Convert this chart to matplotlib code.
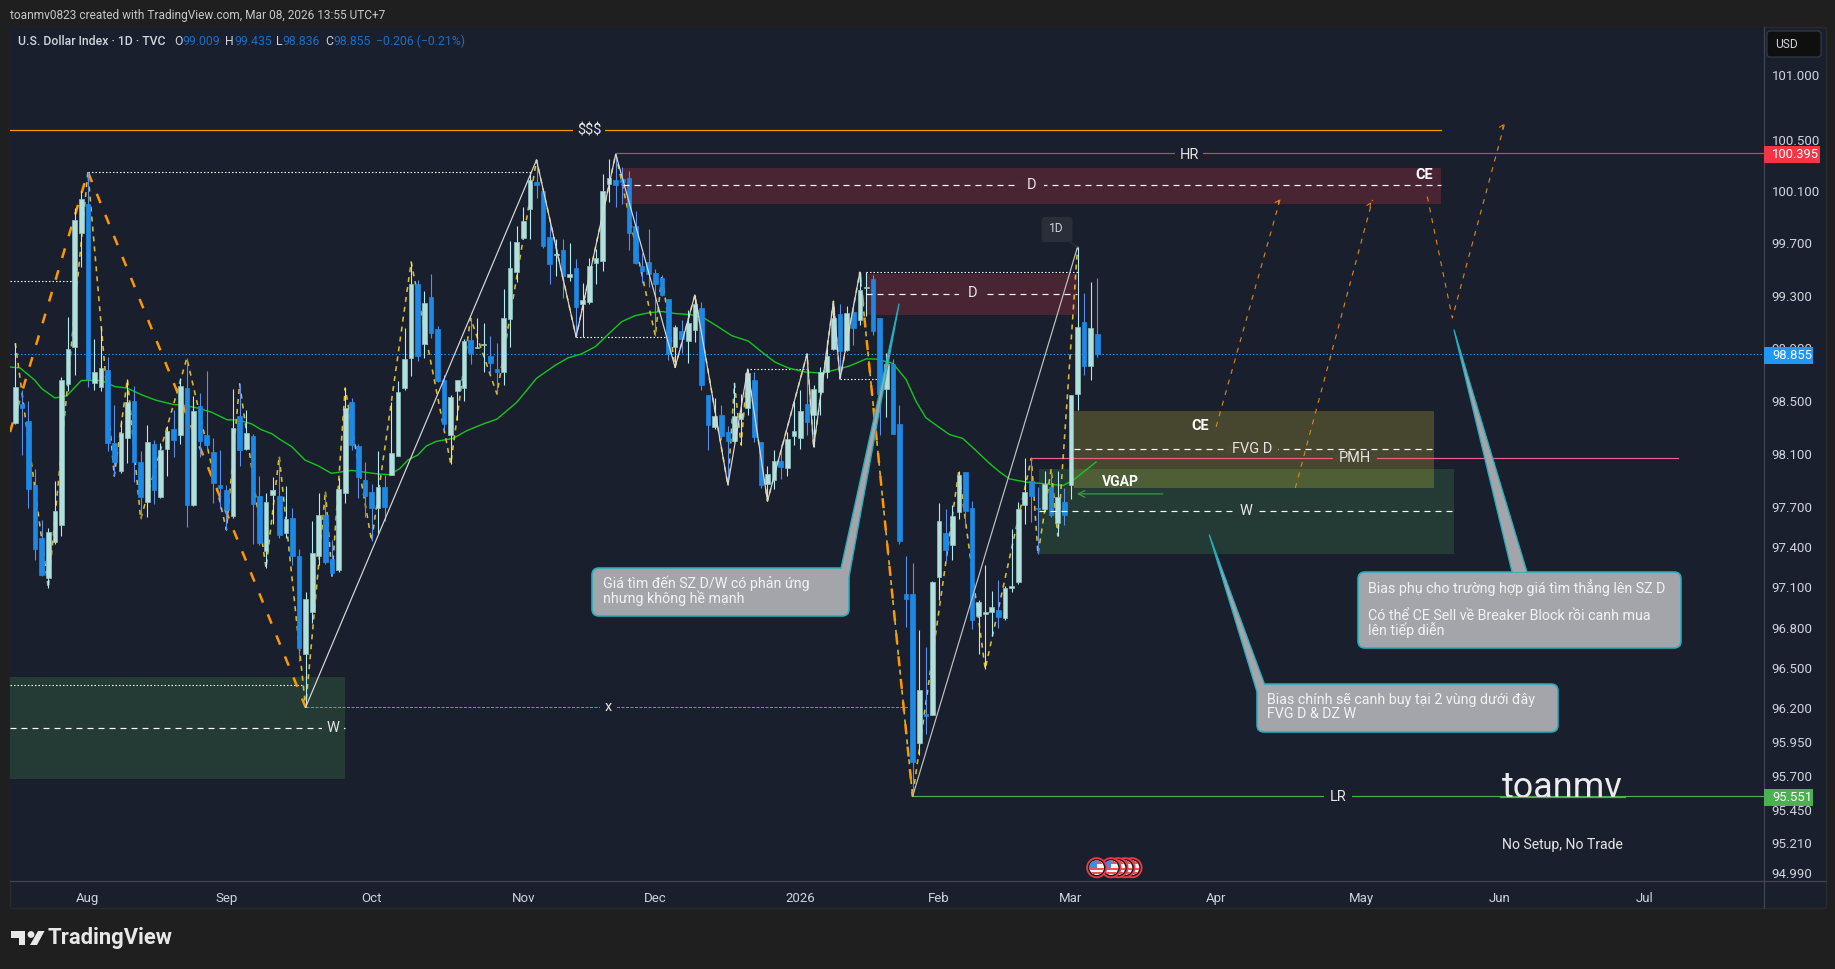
import matplotlib
matplotlib.use("Agg")
import matplotlib.pyplot as plt
import matplotlib.patches as patches
import numpy as np

plt.rcParams["font.family"] = ["Roboto", "DejaVu Sans"]
plt.rcParams["lines.scale_dashes"] = False

# daily candles, first bar is late July 2025, last is Mar 6 2026
opens = [98.333, 98.48, 98.348, 97.866, 97.468, 97.169, 97.438, 97.566, 98.63, 98.91, 99.781, 100.004, 98.637, 98.607, 98.735,
         98.182, 97.971, 98.22, 98.501, 98.039, 97.738, 98.175, 97.776, 98.137, 98.287, 98.242, 98.599, 97.715, 98.462, 98.242,
         98.114, 97.866, 97.828, 97.633, 98.386, 98.137, 98.235, 97.783, 97.371, 97.791, 97.783, 97.505, 97.617, 97.333, 96.603,
         96.915, 97.333, 97.64, 97.31, 97.228, 97.806, 98.492, 98.16, 97.904, 97.814, 97.692, 97.851, 97.941, 98.084, 98.599,
         98.826, 99.39, 98.933, 99.291, 99.047, 98.659, 98.243, 98.576, 98.599, 98.963, 98.902, 98.925, 98.842, 98.743, 98.72,
         99.123, 99.483, 99.743, 99.965, 100.172, 100.101, 99.75, 99.613, 99.651, 99.444, 99.513, 99.237, 99.253, 99.551, 99.567,
         100.158, 100.189, 100.196, 100.204, 99.834, 99.528, 99.559, 99.474, 99.436, 99.275, 98.91, 99.031, 98.955, 99.039, 99.206,
         98.546, 98.303, 98.394, 98.265, 98.197, 98.363, 98.447, 98.659, 98.19, 97.874, 97.904, 98.047, 97.994, 98.235, 98.22,
         98.477, 98.394, 98.568, 98.72, 98.895, 99.164, 98.888, 99.18, 99.116, 99.361, 99.432, 99.132, 98.59, 98.778, 98.324,
         97.052, 97.052, 95.948, 96.162, 96.154, 97.175, 97.508, 97.415, 97.663, 97.964, 97.694, 96.882, 96.897, 96.913, 96.928,
         96.867, 97.098, 97.136, 97.717, 97.896, 97.694, 97.687, 97.85, 97.578, 97.741, 97.865, 98.551, 99.1, 98.762, 99.009]
highs = [98.94, 98.584, 98.501, 97.986, 97.603, 97.54, 97.896, 98.682, 99.139, 99.973, 100.105, 100.25, 98.971, 99.07, 98.834,
         98.47, 98.356, 98.667, 98.614, 98.122, 98.318, 98.205, 98.182, 98.31, 98.432, 98.675, 98.826, 98.539, 98.561, 98.728,
         98.22, 98.129, 97.866, 98.592, 98.63, 98.432, 98.25, 97.933, 97.806, 97.926, 98.084, 97.859, 97.692, 97.386, 97.064,
         97.595, 97.806, 97.821, 97.453, 97.919, 98.599, 98.523, 98.175, 98.039, 97.874, 98.122, 97.941, 98.492, 98.652, 99.054,
         99.559, 99.421, 99.337, 99.467, 99.07, 98.697, 98.545, 98.659, 98.97, 99.13, 99.13, 99.092, 98.993, 98.94, 99.352,
         99.72, 99.835, 99.98, 100.249, 100.342, 100.101, 99.865, 99.735, 99.735, 99.704, 99.582, 99.398, 99.59, 99.659, 100.235,
         100.35, 100.388, 100.288, 100.258, 99.95, 99.628, 99.811, 99.505, 99.459, 99.275, 99.077, 99.115, 99.191, 99.306, 99.253,
         98.546, 98.523, 98.47, 98.31, 98.634, 98.553, 98.743, 98.72, 98.19, 98.01, 98.13, 98.175, 98.265, 98.493, 98.583,
         98.857, 98.621, 98.76, 98.963, 99.258, 99.237, 99.219, 99.245, 99.479, 99.479, 99.456, 99.132, 98.865, 98.818, 98.473,
         97.33, 97.284, 96.783, 96.652, 97.144, 97.733, 97.687, 97.717, 97.974, 97.966, 97.749, 97.005, 97.268, 97.075, 97.152,
         97.113, 97.539, 97.741, 98.067, 98.067, 97.85, 97.974, 97.989, 97.974, 97.842, 98.543, 99.674, 99.321, 99.408, 99.435]
lows = [98.323, 98.092, 97.693, 97.303, 97.183, 97.094, 97.423, 97.483, 98.577, 98.698, 99.52, 98.607, 98.584, 98.577, 98.122,
        97.933, 97.956, 98.031, 97.889, 97.61, 97.625, 97.723, 97.768, 97.933, 98.077, 98.175, 97.55, 97.708, 98.077, 98.129,
        97.73, 97.685, 97.528, 97.618, 98.009, 98.129, 97.423, 97.415, 97.243, 97.573, 97.468, 97.468, 97.265, 96.551, 96.208,
        96.833, 97.265, 97.273, 97.183, 97.213, 97.73, 98.129, 97.767, 97.625, 97.445, 97.505, 97.595, 97.941, 98.084, 98.584,
        98.69, 98.804, 98.826, 98.978, 98.644, 98.281, 98.025, 98.356, 98.5, 98.781, 98.902, 98.72, 98.712, 98.553, 98.621,
        98.91, 99.406, 99.735, 99.735, 100.05, 99.666, 99.391, 99.452, 99.283, 99.414, 98.986, 98.986, 99.237, 99.39, 99.49,
        100.019, 99.98, 100.004, 99.651, 99.543, 99.398, 99.367, 98.994, 99.298, 98.811, 98.755, 98.864, 98.788, 98.948, 98.583,
        98.13, 98.288, 98.205, 97.866, 98.19, 98.168, 98.394, 98.19, 97.844, 97.746, 97.836, 97.912, 97.934, 98.168, 98.138,
        98.243, 98.153, 98.394, 98.675, 98.887, 98.668, 98.88, 98.927, 99.077, 99.148, 98.998, 98.246, 98.379, 98.254, 97.423,
        96.806, 95.551, 95.857, 96.009, 96.154, 97.005, 97.299, 97.307, 97.609, 97.554, 96.79, 96.606, 96.491, 96.736, 96.798,
        96.859, 97.067, 97.121, 97.57, 97.585, 97.345, 97.671, 97.624, 97.484, 97.562, 97.764, 98.434, 98.7, 98.661, 98.836]
closes = [98.607, 98.447, 97.836, 97.388, 97.191, 97.513, 97.67, 98.66, 98.895, 99.881, 100.043, 98.667, 98.72, 98.751, 98.182,
          98.039, 98.257, 98.493, 98.039, 97.776, 98.19, 97.828, 98.129, 98.272, 98.205, 98.614, 97.715, 98.424, 98.197, 98.167,
          97.881, 97.843, 97.678, 98.295, 98.129, 98.257, 97.723, 97.43, 97.738, 97.828, 97.49, 97.61, 97.333, 96.647, 97.012,
          97.355, 97.64, 97.288, 97.205, 97.836, 98.447, 98.167, 97.926, 97.784, 97.692, 97.851, 97.7, 98.107, 98.569, 98.819,
          99.39, 98.842, 99.245, 99.016, 98.652, 98.326, 98.53, 98.659, 98.955, 98.864, 98.91, 98.933, 98.788, 98.72, 99.13,
          99.513, 99.712, 99.873, 100.188, 100.149, 99.681, 99.544, 99.62, 99.452, 99.467, 99.214, 99.268, 99.528, 99.59, 100.104,
          100.204, 100.15, 100.173, 99.781, 99.551, 99.49, 99.467, 99.39, 99.306, 98.857, 99.062, 98.97, 99.092, 99.237, 98.621,
          98.318, 98.386, 98.235, 98.197, 98.386, 98.409, 98.712, 98.228, 97.866, 97.95, 98.047, 98.002, 98.213, 98.273, 98.424,
          98.34, 98.591, 98.72, 98.841, 99.13, 98.88, 99.172, 99.053, 99.345, 99.369, 99.03, 98.551, 98.778, 98.254, 97.446,
          97.013, 95.804, 96.338, 96.147, 97.136, 97.593, 97.376, 97.632, 97.943, 97.671, 96.859, 96.99, 96.913, 96.951, 96.875,
          97.098, 97.113, 97.687, 97.811, 97.78, 97.687, 97.873, 97.64, 97.777, 97.64, 98.543, 99.061, 98.762, 99.053, 98.855]

# moving average, read at a point every couple of bars
ma_bars = [-0.8, 0.7, 2, 3, 4, 6, 7.8, 10, 11.1, 13.1, 15.1, 16.9, 19.2, 21.2, 24, 25.3, 27.8, 29.8, 32.1, 33.9, 35.9, 37.2, 38.9,
           40.1, 41.9, 43.9, 45.9, 47.9, 51, 55, 56.8, 58.3, 59.5, 61, 62.3, 63.8, 66.4, 68.4, 70.9, 73, 76, 79,
           81.8, 83.8, 85.8, 87.9, 89.9, 91.9, 93.9, 96, 98, 100, 102.5, 104.5, 106.5, 108.6, 111.1, 113.1, 115.1, 117.2, 119.7, 122.2,
           124.2, 126.4, 129, 130.5, 133, 135, 136.5, 138, 139.6, 141.6, 143.6, 145.6, 147.6, 149.2, 150.7, 153.2, 156.2, 158.8, 160.3, 163.8]
ma_values = [98.758, 98.751, 98.698, 98.655, 98.594, 98.523, 98.539, 98.655, 98.657, 98.655, 98.609, 98.599, 98.546, 98.508, 98.473,
             98.47, 98.445, 98.414, 98.358, 98.356, 98.325, 98.285, 98.252,
             98.21, 98.155, 98.054, 98.011, 97.954, 97.976, 97.949, 97.944, 97.991, 98.054, 98.092, 98.16, 98.195, 98.218, 98.275,
             98.326, 98.363, 98.49, 98.672,
             98.77, 98.828, 98.857, 98.912, 99.008, 99.102, 99.148, 99.17, 99.18, 99.165, 99.155, 99.127, 99.064, 98.996, 98.955, 98.874,
             98.796, 98.75, 98.72, 98.712,
             98.735, 98.765, 98.82, 98.818, 98.786, 98.664, 98.499, 98.374, 98.316, 98.246, 98.217, 98.126, 98.031, 97.964, 97.912,
             97.888, 97.875, 97.862, 97.901, 98.039]

# swing paths drawn on the chart, pointing at bars and whether they use the high or low
gold_bars = [0, 5, 11, 15, 17, 19, 26, 32, 34, 38, 40, 44, 47, 48, 50, 54, 60, 66, 69, 73, 79, 85, 91, 97, 98, 100, 103, 108, 109, 110,
             111, 114, 120, 121, 124, 125, 128, 136, 143, 147, 154, 155, 157, 158, 161]
gold_kinds = "HLHLHLHLHLHLHLHLHLHLHLHLHLHLHLHLHLHLHLHLHLHLH"
white_bars = [44, 79, 85, 91, 100, 103, 108, 111, 114, 120, 121, 124, 125, 128]
white_kinds = "LHLHLHLHLHLHLH"
grey_bars = [136, 161]
grey_prices = [95.551, 99.674]
orange_a_bars = [-0.8, 11, 44]
orange_a_prices = [98.266, 100.25, 96.208]
orange_b_bars = [128, 136]
orange_b_prices = [99.479, 95.551]

# projected paths to the right
proj_1_bars = [182.0, 191.8]
proj_1_prices = [98.305, 100.057]
proj_2_bars = [194.0, 205.7]
proj_2_prices = [97.844, 100.035]
proj_3_bars = [214.0, 217.8, 225.8]
proj_3_prices = [100.06, 99.131, 100.638]

# zones: start bar, end bar, top, mid, bottom
zone_sz_high = (92.1, 216.1, 100.283, 100.147, 100.006)
zone_sz_low = (129.0, 160.9, 99.467, 99.311, 99.154)
zone_w_left = (-0.8, 49.97, 96.43, 96.055, 95.68)
zone_w_right = (155.2, 218.0, 97.986, 97.671, 97.349)
zone_fvg = (160.4, 215.0, 98.424, 98.138, 97.844)

# horizontal levels
level_usd = (-0.8, 216.1, 100.571)
level_hr = (91, 265, 100.395)
level_lr = (136, 265, 95.551)
level_pmh = (154.1, 252, 98.067)
level_x = (44, 135.5, 96.21)
level_last = (-0.8, 265, 98.855)
dotted_levels = [(11, 78.3, 100.25), (-0.8, 8.6, 99.41), (-0.8, 43.5, 96.37), (85, 98.5, 98.984),
                 (111.4, 120, 98.741), (125, 130.6, 98.664), (129, 161, 99.479)]
arrow_vgap = (173.9, 160.9, 97.799)

price_ticks = [101.0, 100.5, 100.1, 99.7, 99.3, 98.9, 98.5, 98.1, 97.7, 97.4, 97.1, 96.8, 96.5, 96.2, 95.95, 95.7, 95.45, 95.21, 94.99]
month_bars = [11, 32, 54, 77, 97, 119, 140, 160, 182, 204, 225, 247]
month_labels = ["Aug", "Sep", "Oct", "Nov", "Dec", "2026", "Feb", "Mar", "Apr", "May", "Jun", "Jul"]

BG = "#1a1f2e"
OUTER = "#1f1f1f"
LINE = "#434651"
UP = "#b2dfdb"
DOWN = "#1e88e5"
TEXT = "#d1d4dc"
PX = 0.72  # points in one pixel at dpi 100
W, H = 1835, 969


def dash(on, off):
    return (0, (on * PX, off * PX))


def draw_zone(ax, zone, color, alpha=0.2, midline=True):
    x0, x1, top, mid, bottom = zone
    ax.fill_between([x0, x1], bottom, top, color=color, alpha=alpha, lw=0, zorder=1)
    if midline:
        ax.plot([x0, x1], [mid, mid], color="white", lw=1.2 * PX, ls=dash(6, 5), zorder=5)


def swing_prices(bars, kinds):
    return [highs[b] if k == "H" else lows[b] for b, k in zip(bars, kinds)]


def make_price_axes(fig):
    ax = fig.add_axes([10 / W, 1 - 881 / H, 1753.5 / W, 854 / H], facecolor=BG)
    ax.set_yscale("log")
    ax.set_xlim(-0.803, 264.96)
    ax.set_ylim(94.932, 101.373)
    ax.yaxis.tick_right()
    ax.set_yticks(price_ticks, labels=["%.3f" % p for p in price_ticks])
    ax.set_yticks([], minor=True)
    ax.set_xticks(month_bars, labels=month_labels)
    ax.tick_params(axis="y", length=0, pad=6, labelcolor=TEXT, labelsize=13 * PX * 1.02)
    ax.tick_params(axis="x", length=0, pad=8, labelcolor=TEXT, labelsize=13 * PX * 1.02)
    for spine in ax.spines.values():
        spine.set_visible(False)
    return ax


def draw_candles(ax):
    o, h, l, c = map(np.array, (opens, highs, lows, closes))
    x = np.arange(len(o))
    up = c >= o
    ax.vlines(x[up], l[up], h[up], color="#b2ebf2", lw=1.1 * PX, zorder=3)
    ax.vlines(x[~up], l[~up], h[~up], color="#5b8def", lw=1.1 * PX, zorder=3)
    bottoms = np.minimum(o, c)
    heights = np.abs(c - o)
    ax.bar(x[up], heights[up], bottom=bottoms[up], width=0.7, color=UP, edgecolor="#8fc4c0", lw=0.7 * PX, zorder=3.1)
    ax.bar(x[~up], heights[~up], bottom=bottoms[~up], width=0.7, color=DOWN, edgecolor=DOWN, lw=0.7 * PX, zorder=3.1)


def draw_drawings(ax):
    draw_zone(ax, zone_sz_high, "#f23645", 0.22)
    draw_zone(ax, zone_sz_low, "#f23645", 0.22)
    draw_zone(ax, zone_w_left, "#4caf50", 0.2)
    draw_zone(ax, zone_w_right, "#4caf50", 0.2)
    draw_zone(ax, zone_fvg, "#ffeb3b", 0.2)

    ax.plot(level_usd[:2], level_usd[2:] * 2, color="#ff9800", lw=1.2 * PX, zorder=2)
    ax.plot(level_hr[:2], level_hr[2:] * 2, color="#f23645", lw=1.2 * PX, zorder=2)
    ax.plot(level_lr[:2], level_lr[2:] * 2, color="#4caf50", lw=1.2 * PX, zorder=2)
    ax.plot(level_pmh[:2], level_pmh[2:] * 2, color="#ec5f86", lw=1.2 * PX, zorder=2)
    ax.plot(level_x[:2], level_x[2:] * 2, color="#b9803a", lw=1 * PX, ls=dash(3, 1.5), zorder=2)
    ax.plot(level_last[:2], level_last[2:] * 2, color="#2196f3", lw=1 * PX, ls=dash(1.5, 2), zorder=2)
    for x0, x1, p in dotted_levels:
        ax.plot([x0, x1], [p, p], color="white", lw=1.1 * PX, ls=dash(1.5, 2), zorder=2.2)

    ax.plot(ma_bars, ma_values, color="#17c41f", lw=1.4 * PX, zorder=2.4)
    ax.plot(gold_bars, swing_prices(gold_bars, gold_kinds), color="#dcbc2c", lw=1.6 * PX, ls=dash(5, 5), zorder=2.5)
    ax.plot(orange_a_bars, orange_a_prices, color="#ff9800", lw=2.5 * PX, ls=dash(10, 12.7), zorder=2.6)
    ax.plot(orange_b_bars, orange_b_prices, color="#ff9800", lw=2.5 * PX, ls=dash(10, 12.7), zorder=2.6)
    ax.plot(white_bars, swing_prices(white_bars, white_kinds), color="#d8d8d8", lw=1.2 * PX, zorder=4)
    ax.plot(grey_bars, grey_prices, color="#c0c0c0", lw=1.2 * PX, zorder=4)

    for bars, prices in [(proj_1_bars, proj_1_prices), (proj_2_bars, proj_2_prices), (proj_3_bars, proj_3_prices)]:
        ax.plot(bars, prices, color="#e08a12", lw=1.1 * PX, ls=dash(5, 6), zorder=4)
        ax.annotate("", xy=(bars[-1], prices[-1]), xytext=(bars[-1] - 0.6, prices[-1] - 0.05),
                    arrowprops=dict(arrowstyle="->", color="#e08a12", lw=1 * PX, mutation_scale=7), zorder=4)
    ax.annotate("", xy=(arrow_vgap[1], arrow_vgap[2]), xytext=(arrow_vgap[0], arrow_vgap[2]),
                arrowprops=dict(arrowstyle="->", color="#3f9c46", lw=1.2 * PX, mutation_scale=12, shrinkA=0, shrinkB=0), zorder=4)


def label(ui, x, y, text, bg=None, gap=0, size=14.5, weight="normal", color="#e6e6e6"):
    # gap is the half width of the break the text makes in its line
    if bg:
        ui.add_patch(patches.Rectangle((x - gap, y - 4), 2 * gap, 8, facecolor=bg, edgecolor="none", zorder=5.9))
    ui.text(x, y, text, ha="center", va="center", fontsize=size * PX, fontweight=weight, color=color, zorder=6)


def callout(ui, x0, y0, x1, y1, wedge, lines):
    gray, edge = "#a3a5ab", "#22aebd"
    ui.add_patch(patches.FancyBboxPatch((x0 + 6, y0 + 6), x1 - x0 - 12, y1 - y0 - 12, boxstyle="round,pad=6,rounding_size=7",
                                        facecolor=gray, edgecolor=edge, lw=1.6 * PX, zorder=8))
    tip, left, right = wedge
    ui.add_patch(patches.Polygon([tip, left, right], closed=True, facecolor=gray, edgecolor="none", zorder=8.1))
    ui.plot([left[0], tip[0], right[0]], [left[1], tip[1], right[1]], color=edge, lw=1.3 * PX, zorder=8.2)
    for tx, ty, s in lines:
        ui.text(tx, ty, s, ha="left", va="center", fontsize=14.3 * PX, color="#f2f2f2", zorder=9)


def draw_flag(ui, x, y, level):
    # one flag icon, level keeps its layers together when the icons overlap
    ui.add_patch(patches.Circle((x, y), 10.5, facecolor="#f23645", edgecolor="none", zorder=level))
    ui.add_patch(patches.Circle((x, y), 8.7, facecolor="#131722", edgecolor="none", zorder=level + 0.01))
    face = patches.Circle((x, y), 7.3, facecolor="#f4f4f4", edgecolor="none", zorder=level + 0.02)
    ui.add_patch(face)
    for dy in (0.5, 4.5):
        stripe = patches.Rectangle((x - 8, y + dy), 16, 2, facecolor="#ef5350", zorder=level + 0.03)
        ui.add_patch(stripe)
        stripe.set_clip_path(face)
    top = patches.Rectangle((x - 8, y - 8), 16, 4, facecolor="#ef5350", zorder=level + 0.03)
    ui.add_patch(top)
    top.set_clip_path(face)
    canton = patches.Rectangle((x - 8, y - 8), 8, 8, facecolor="#3d8be8", zorder=level + 0.04)
    ui.add_patch(canton)
    canton.set_clip_path(face)


def draw_overlay(fig):
    ui = fig.add_axes([0, 0, 1, 1], zorder=5)
    ui.set_xlim(0, W)
    ui.set_ylim(H, 0)
    ui.axis("off")

    # chart frame and axis separators
    ui.plot([1763.5, 1763.5], [27, 908], color=LINE, lw=1.2 * PX, zorder=2)
    ui.plot([10, 1826], [881, 881], color=LINE, lw=1.2 * PX, zorder=2)

    ui.text(10, 15.5, "toanmv0823 created with TradingView.com, Mar 08, 2026 13:55 UTC+7", fontsize=11.9 * PX,
            color="#c8c8c8", va="center")
    ui.text(17.5, 41, "U.S. Dollar Index · 1D · TVC", fontsize=12.2 * PX, color=TEXT, va="center", fontweight="medium")
    blue = "#1c6fc4"
    for x, s, c in [(174, "O", TEXT), (182.5, "99.009", blue), (225, "H", TEXT), (234, "99.435", blue), (275.5, "L", TEXT),
                    (282.5, "98.836", blue), (325, "C", TEXT), (333, "98.855", blue), (376, "−0.206 (−0.21%)", blue)]:
        ui.text(x, 41, s, fontsize=12.2 * PX, color=c, va="center")

    ui.add_patch(patches.FancyBboxPatch((1770, 34), 48, 20, boxstyle="round,pad=3,rounding_size=3", facecolor="#0f0f0f",
                                        edgecolor="#363a45", lw=1.2 * PX, zorder=3))
    ui.text(1786, 44.5, "USD", fontsize=12 * PX, color=TEXT, ha="center", va="center", zorder=4)

    for y0, y1, x1, color, s in [(146, 163, 1820, "#f23645", "100.395"), (347, 364, 1813, "#2196f3", "98.855"),
                                 (789, 806, 1813, "#4caf50", "95.551")]:
        ui.add_patch(patches.Rectangle((1764, y0), x1 - 1764, y1 - y0, facecolor=color, edgecolor="none", zorder=5))
        ui.text(1772, (y0 + y1) / 2, s, fontsize=13 * PX, color="white", va="center", zorder=6)

    # names on the drawn levels and zones
    label(ui, 589, 130, "$$$", bg=BG, gap=16)
    label(ui, 1189, 154.5, "HR", bg=BG, gap=14)
    label(ui, 1031, 185, "D", bg="#472733", gap=13)
    label(ui, 1424, 175, "CE", weight="bold", color="white")
    label(ui, 972, 293, "D", bg="#472733", gap=13)
    label(ui, 1200, 426, "CE", weight="bold", color="white")
    label(ui, 1252, 449, "FVG D", bg="#4b4730", gap=26)
    label(ui, 1355, 458, "PMH", bg="#4b4730", gap=22)
    label(ui, 1120, 482, "VGAP", size=14, weight="bold", color="white")
    label(ui, 1246, 511, "W", bg="#263b36", gap=11)
    label(ui, 333, 728, "W", bg="#263b36", gap=11)
    label(ui, 608, 707, "x", bg=BG, gap=8)
    label(ui, 1338, 797, "LR", bg=BG, gap=14)

    # watermark, the LR line sits on top of it
    label(ui, 1562.5, 788, "toanmv", size=36, color="#ececec")
    ui.plot([1500, 1625], [797, 797], color="#4caf50", lw=1.2 * PX, zorder=6.5)
    label(ui, 1562.5, 845, "No Setup, No Trade", size=14)

    # 1D tag
    ui.add_patch(patches.FancyBboxPatch((1043.5, 219), 27, 21, boxstyle="round,pad=2,rounding_size=3", facecolor="#2a2e39",
                                        edgecolor="none", zorder=5.5))
    ui.plot([1070, 1077], [242, 247], color="#2a2e39", lw=1.5 * PX, zorder=5.5)
    label(ui, 1056, 228, "1D", size=12, color=TEXT)

    callout(ui, 592, 568, 849, 616, ((899, 304), (841, 568), (849, 577)),
            [(603, 583, "Giá tìm đến SZ D/W có phản ứng"), (603, 598, "nhưng không hề mạnh")])
    callout(ui, 1257, 684, 1558, 732, ((1209.3, 535), (1257, 692), (1264.5, 684)),
            [(1266.5, 700, "Bias chính sẽ canh buy tại 2 vùng dưới đây"), (1266.5, 714.5, "FVG D & DZ W")])
    callout(ui, 1358, 572, 1681, 648, ((1454, 330), (1512, 572), (1527, 572)),
            [(1368, 588, "Bias phụ cho trường hợp giá tìm thẳng lên SZ D"), (1368, 616, "Có thể CE Sell về Breaker Block rồi canh mua"),
             (1368, 630, "lên tiếp diễn")])

    for n, x in enumerate([1132, 1125, 1118, 1111, 1096.7]):
        draw_flag(ui, x, 867.7, 7 + n * 0.1)

    # TradingView mark at the bottom
    logo = "#e8e8e8"
    ui.add_patch(patches.Polygon([(11, 931), (25, 931), (25, 945), (19, 945), (19, 938), (11, 938)], facecolor=logo, edgecolor="none"))
    ui.add_patch(patches.Circle((31, 934.5), 3.4, facecolor=logo, edgecolor="none"))
    ui.add_patch(patches.Polygon([(38, 931), (44.5, 931), (37, 945), (30, 945)], facecolor=logo, edgecolor="none"))
    ui.text(47, 938, "TradingView", fontsize=22 * PX, fontweight="bold", color=logo, va="center")


def make_chart():
    fig = plt.figure(figsize=(W / 100, H / 100), dpi=100, facecolor=OUTER)
    fig.patches.append(patches.Rectangle((10 / W, 1 - 908 / H), 1816 / W, 881 / H, transform=fig.transFigure,
                                         facecolor=BG, edgecolor="#2a2a2a", lw=1, zorder=-1))
    ax = make_price_axes(fig)
    draw_candles(ax)
    draw_drawings(ax)
    draw_overlay(fig)
    fig.savefig("out.png", dpi=100, facecolor=OUTER)


if __name__ == "__main__":
    make_chart()
